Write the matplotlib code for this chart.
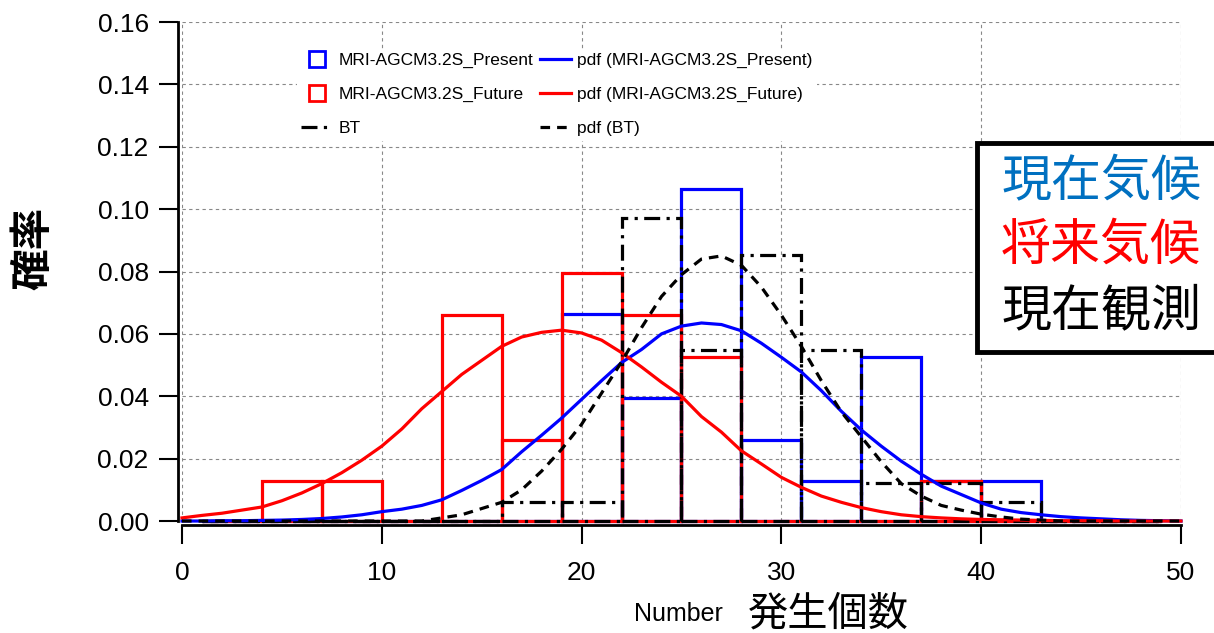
import matplotlib
matplotlib.use("Agg")
import matplotlib.pyplot as plt
from matplotlib.lines import Line2D
from matplotlib.patches import Rectangle

plt.rcParams['font.family'] = ['Liberation Sans', 'Noto Sans CJK JP']

# histogram bins (width 3) and densities
BIN_LEFT = [1, 4, 7, 10, 13, 16, 19, 22, 25, 28, 31, 34, 37, 40, 43, 46]
BIN_WIDTH = 3
HIST_PRESENT = [0, 0, 0, 0, 0, 0, 0.0665, 0.0395, 0.1065, 0.026, 0.0128, 0.0527, 0.0128, 0.0128, 0, 0]
HIST_FUTURE = [0, 0.0128, 0.0128, 0, 0.066, 0.026, 0.0795, 0.066, 0.0527, 0, 0, 0, 0.0128, 0, 0, 0]
HIST_BT = [0, 0, 0, 0, 0, 0.006, 0.006, 0.0972, 0.0548, 0.0852, 0.0548, 0.0122, 0.0122, 0.006, 0, 0]

# fitted pdf curves, sampled at integer numbers 0..50
X_PDF = list(range(0, 51))
PDF_PRESENT = [0.0000, 0.0000, 0.0001, 0.0001, 0.0002, 0.0003, 0.0005, 0.0008, 0.0013, 0.0020,
               0.0030, 0.0038, 0.0050, 0.0068, 0.0098, 0.0130, 0.0165, 0.0222, 0.0275, 0.0330,
               0.0390, 0.0450, 0.0508, 0.0550, 0.0600, 0.0625, 0.0635, 0.0630, 0.0610, 0.0570,
               0.0525, 0.0478, 0.0418, 0.0352, 0.0292, 0.0240, 0.0192, 0.0150, 0.0112, 0.0085,
               0.0058, 0.0038, 0.0027, 0.0020, 0.0014, 0.0010, 0.0007, 0.0004, 0.0002, 0.0001, 0.0000]
PDF_FUTURE = [0.0010, 0.0018, 0.0025, 0.0035, 0.0045, 0.0065, 0.0090, 0.0120, 0.0155, 0.0195,
              0.0240, 0.0295, 0.0360, 0.0415, 0.0470, 0.0515, 0.0560, 0.0590, 0.0605, 0.0612,
              0.0603, 0.0580, 0.0540, 0.0494, 0.0445, 0.0400, 0.0335, 0.0285, 0.0225, 0.0183,
              0.0140, 0.0108, 0.0080, 0.0060, 0.0043, 0.0030, 0.0020, 0.0014, 0.0010, 0.0007,
              0.0005, 0.0004, 0.0003, 0.0002, 0.0001, 0.0001, 0.0001, 0.0000, 0.0000, 0.0000, 0.0000]
PDF_BT = [0.0000, 0.0000, 0.0000, 0.0000, 0.0000, 0.0000, 0.0000, 0.0000, 0.0000, 0.0000,
          0.0000, 0.0000, 0.0000, 0.0010, 0.0020, 0.0040, 0.0060, 0.0100, 0.0160, 0.0230,
          0.0310, 0.0410, 0.0510, 0.0620, 0.0720, 0.0790, 0.0840, 0.0850, 0.0820, 0.0750,
          0.0660, 0.0560, 0.0450, 0.0350, 0.0270, 0.0190, 0.0120, 0.0080, 0.0050, 0.0035,
          0.0022, 0.0013, 0.0006, 0.0003, 0.0000, 0.0000, 0.0000, 0.0000, 0.0000, 0.0000, 0.0000]

LABELS = ["MRI-AGCM3.2S_Present", "MRI-AGCM3.2S_Future", "BT",
          "pdf (MRI-AGCM3.2S_Present)", "pdf (MRI-AGCM3.2S_Future)", "pdf (BT)"]

DASHDOT = (0, (5, 2, 1, 2))
DASHED = (0, (3, 2.2))
LW = 2.3

fig = plt.figure(figsize=(12.14, 6.33), dpi=100)
ax = fig.add_axes([0.1499, 0.1769, 0.8229, 0.7883])

ax.bar(BIN_LEFT, HIST_PRESENT, width=BIN_WIDTH, align="edge", fill=False,
       edgecolor="blue", linewidth=LW, zorder=2, clip_on=False)
ax.bar(BIN_LEFT, HIST_FUTURE, width=BIN_WIDTH, align="edge", fill=False,
       edgecolor="red", linewidth=LW, zorder=3, clip_on=False)
ax.bar(BIN_LEFT, HIST_BT, width=BIN_WIDTH, align="edge", fill=False,
       edgecolor="black", linewidth=LW, linestyle=DASHDOT, zorder=4, clip_on=False)

ax.plot(X_PDF, PDF_PRESENT, color="blue", linewidth=LW, zorder=5, clip_on=False)
ax.plot(X_PDF, PDF_FUTURE, color="red", linewidth=LW, zorder=5, clip_on=False)
ax.plot(X_PDF, PDF_BT, color="black", linewidth=LW, linestyle=DASHED, zorder=6, clip_on=False)

ax.set_xlim(0, 50)
ax.set_ylim(0, 0.16)
ax.set_xticks(range(0, 51, 10))
ax.set_yticks([i * 0.02 for i in range(9)])
ax.yaxis.set_major_formatter(matplotlib.ticker.FormatStrFormatter("%.2f"))
ax.tick_params(axis="both", length=14, width=1.5, labelsize=19, direction="out")
ax.tick_params(axis="x", pad=12)
ax.tick_params(axis="y", pad=7)

for s in ("top", "right"):
    ax.spines[s].set_visible(False)
for s in ("left", "bottom"):
    ax.spines[s].set_linewidth(2)
    ax.spines[s].set_position(("outward", 3))

ax.grid(True, color="#888888", linestyle=(0, (3, 3)), linewidth=0.8)
ax.set_axisbelow(True)

handles = [
    Line2D([], [], marker="s", markerfacecolor="none", markeredgecolor="blue",
           markeredgewidth=2, markersize=11, linestyle="none"),
    Line2D([], [], marker="s", markerfacecolor="none", markeredgecolor="red",
           markeredgewidth=2, markersize=11, linestyle="none"),
    Line2D([], [], color="black", linewidth=LW, linestyle=DASHDOT),
    Line2D([], [], color="blue", linewidth=LW),
    Line2D([], [], color="red", linewidth=LW),
    Line2D([], [], color="black", linewidth=LW, linestyle=DASHED),
]
leg = ax.legend(handles, LABELS, ncol=2, loc="upper left", bbox_to_anchor=(0.106, 0.964),
                fontsize=12.5, frameon=True, facecolor="white", edgecolor="none",
                framealpha=1, fancybox=False, borderpad=0.25, labelspacing=1.08,
                handlelength=1.8, handletextpad=0.35, columnspacing=0.4)
leg.set_zorder(10)

# axis titles
fig.text(33 / 1214, 1 - 248 / 633, "確率", rotation=90, ha="center", va="center",
         fontsize=30, fontweight="bold", family=["Noto Sans CJK JP"])
fig.text(723 / 1214, 1 - 614 / 633, "Number", ha="right", va="center", fontsize=18)
fig.text(748 / 1214, 1 - 614 / 633, "発生個数", ha="left", va="center", fontsize=29,
         family=["Noto Sans CJK JP"])

# annotation box at right
box = Rectangle((977 / 1214, 1 - 352 / 633), 0.3, (352 - 143) / 633,
                transform=fig.transFigure, facecolor="white", edgecolor="black",
                linewidth=3.5, zorder=20)
fig.patches.append(box)
for txt, col, yp in [("現在気候", "#0070C0", 182), ("将来気候", "red", 246), ("現在観測", "black", 311)]:
    fig.text(1101 / 1214, 1 - yp / 633, txt, color=col, ha="center", va="center",
             fontsize=36, family=["Noto Sans CJK JP"], zorder=21)

fig.savefig("out.png", dpi=100)
